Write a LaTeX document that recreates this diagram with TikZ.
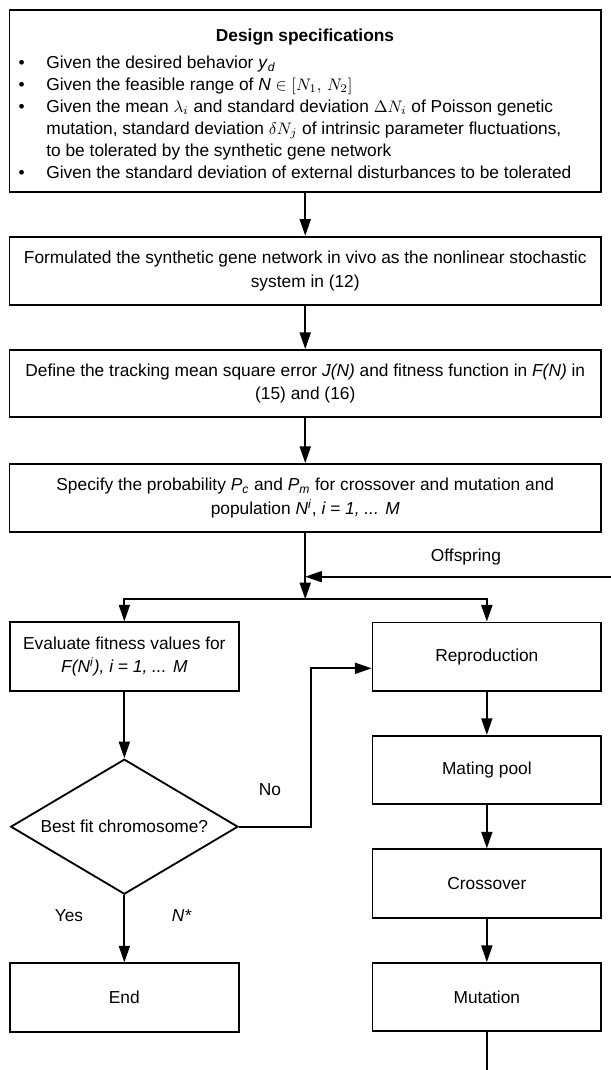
\documentclass[tikz,border=0pt]{standalone}
\usepackage{fontspec}
\setmainfont{Liberation Sans}
\usetikzlibrary{arrows.meta,shapes.geometric}
\begin{document}
\begin{tikzpicture}[x=0.6pt,y=-0.6pt,
  txt/.style={font=\fontsize{10.4}{14.2}\selectfont},
  box/.style={draw, line width=1.1pt, align=center, inner sep=0pt, txt},
  mainbox/.style={box, minimum width=354.9pt, minimum height=40.8pt},
  sidebox/.style={box, minimum width=137.2pt, minimum height=41pt},
  lbl/.style={txt, inner sep=0pt},
  arr/.style={line width=1.1pt, -{Triangle[length=10pt,width=6.6pt]}},
  ln/.style={line width=1.1pt}]

\useasboundingbox (0,0) rectangle (611,1070);

% design specifications
\node[box, minimum width=354.9pt, minimum height=109.2pt] (spec) at (305.25,101) {};
\node[lbl, font=\fontsize{10.4}{14.2}\selectfont\bfseries, anchor=base] (title) at (305,41) {Design specifications};
\node[lbl, anchor=base] (d1) at (21.7,68) {\textbullet};
\node[lbl, anchor=base west] (t1) at (46,68) {Given the desired behavior \textit{y}\textsubscript{\textit{d}}};
\node[lbl, anchor=base] (d2) at (21.7,90) {\textbullet};
\node[lbl, anchor=base west] (t2) at (46,90) {Given the feasible range of \textit{N} $\in[N_1,\,N_2]$};
\node[lbl, anchor=base] (d3) at (21.7,112) {\textbullet};
\node[lbl, anchor=base west] (t3) at (46,112) {Given the mean $\lambda_i$ and standard deviation $\Delta N_i$ of Poisson genetic};
\node[lbl, anchor=base west] (t3b) at (46,134) {mutation, standard deviation $\delta N_j$ of intrinsic parameter fluctuations,};
\node[lbl, anchor=base west] (t3c) at (46,156) {to be tolerated by the synthetic gene network};
\node[lbl, anchor=base] (d4) at (21.7,178) {\textbullet};
\node[lbl, anchor=base west] (t4) at (46,178) {Given the standard deviation of external disturbances to be tolerated};

% main column
\node[mainbox, minimum height=41pt] (form) at (305.25,270.85) {Formulated the synthetic gene network in vivo as the nonlinear stochastic\\system in (12)};
\node[mainbox, minimum height=40.2pt] (def) at (305.25,383.5) {Define the tracking mean square error \textit{J(N)} and fitness function in \textit{F(N)} in\\(15) and (16)};
\node[mainbox, minimum height=40.6pt] (spc) at (305.25,497.85) {Specify the probability \textit{P}\textsubscript{\textit{c}} and \textit{P}\textsubscript{\textit{m}} for crossover and mutation and\\population \textit{N}\textsuperscript{\textit{i}}, \textit{i = 1, ... M}};

% left column
\node[sidebox] (eval) at (124.35,656.5) {Evaluate fitness values for\\\textit{F(N}\textsuperscript{\textit{i}}\textit{), i = 1, ... M}};
\node[draw, line width=1.1pt, diamond, aspect=1.68, minimum width=136.4pt, minimum height=81pt, inner sep=0pt, txt] (dia) at (124.35,826.7) {Best fit chromosome?};
\node[sidebox] (endb) at (124.35,997.5) {End};

% right column
\node[sidebox] (repro) at (486.85,656.7) {Reproduction};
\node[sidebox] (mate) at (486.85,770) {Mating pool};
\node[sidebox] (cross) at (486.85,883.5) {Crossover};
\node[sidebox] (mut) at (486.85,997.2) {Mutation};

% connectors
\draw[arr] (spec) -- (form);
\draw[arr] (form) -- (def);
\draw[arr] (def) -- (spc);
\coordinate (split) at (305.25,599.3);
\coordinate (offR) at (611,576.7);
\draw[arr] (spc) -- (split);
\draw[arr] (offR) -- (offR -| spc.south);
\draw[arr] (split) -| (eval.north);
\draw[arr] (split) -| (repro.north);
\draw[arr] (eval) -- (dia);
\draw[arr] (dia) -- (endb);
\coordinate (noc) at (310.7,668.3);
\draw[arr] (dia.east) -| (noc) -- (noc -| repro.west);
\draw[arr] (repro) -- (mate);
\draw[arr] (mate) -- (cross);
\draw[arr] (cross) -- (mut);
\coordinate (mutEnd) at (486.85,1070);
\draw[ln] (mut.south) -- (mutEnd);

% labels
\node[lbl] (lOff) at (466,557) {Offspring};
\node[lbl] (lNo) at (270,790) {No};
\node[lbl] (lYes) at (69,916) {Yes};
\node[lbl] (lN) at (181.7,916) {\textit{N*}};
\end{tikzpicture}
\end{document}
